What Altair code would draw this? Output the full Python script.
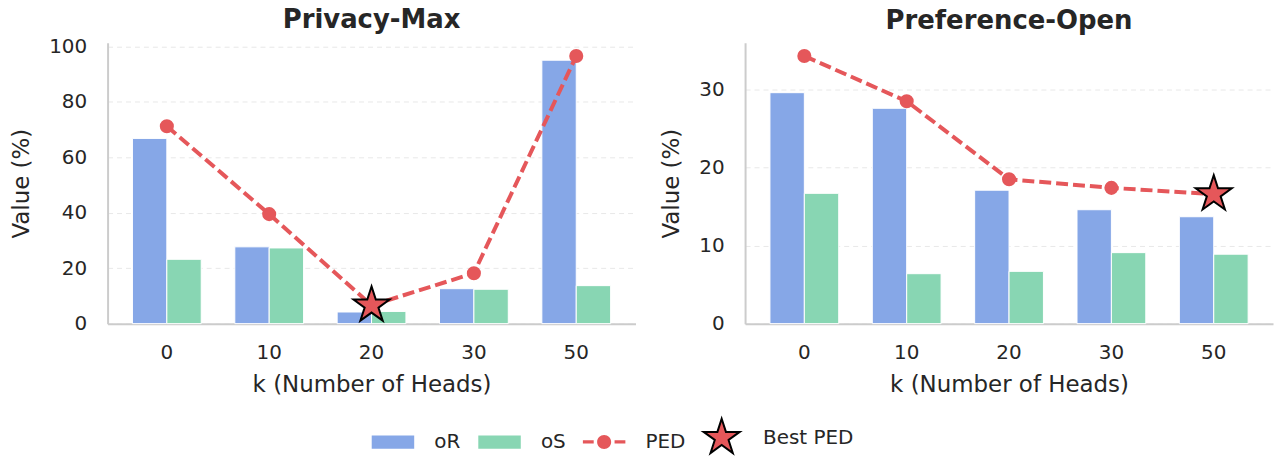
import math

import altair as alt
import pandas as pd

# k values (number of heads) shown on the x axis
K = ["0", "10", "20", "30", "50"]
SERIES = ["oR", "oS", "PED", "Best PED"]

# Privacy-Max
PM_OR = [66.8, 27.7, 4.2, 12.6, 95.0]
PM_OS = [23.2, 27.3, 4.4, 12.4, 13.7]
PM_PED = [71.2, 39.5, 6.6, 18.2, 96.5]

# Preference-Open
PO_OR = [29.6, 27.6, 17.1, 14.6, 13.7]
PO_OS = [16.7, 6.4, 6.7, 9.1, 8.9]
PO_PED = [34.3, 28.5, 18.5, 17.4, 16.6]

BLUE = "#86a7e7"
GREEN = "#88d6b3"
RED = "#e5575a"
TEXT = "#262626"
FONT = "DejaVu Sans"


def star_path(r_out=1.0, r_in=0.382):
    pts = []
    for i in range(10):
        r = r_out if i % 2 == 0 else r_in
        a = math.radians(-90 + 36 * i)
        pts.append(f"{r * math.cos(a):.4f},{r * math.sin(a):.4f}")
    return "M" + "L".join(pts) + "Z"


# legend glyphs (unit coordinates, scaled by the symbol size)
RECT = "M-1.12,-0.35L1.12,-0.35L1.12,0.35L-1.12,0.35Z"
LINE_DOT = (
    "M-1.12,-0.09L-0.55,-0.09L-0.55,0.09L-1.12,0.09Z"
    "M0.55,-0.09L1.12,-0.09L1.12,0.09L0.55,0.09Z"
    "M0.37,0A0.37,0.37 0 1,1 -0.37,0A0.37,0.37 0 1,1 0.37,0Z"
)
STAR = star_path()

STAR_SIZE = 1450

# non-breaking spaces after "PED" widen that entry before the star entry
PED_GAP = "\u00a0" * 7

LEGEND = alt.Legend(
    title=None,
    orient="none",
    legendX=266,
    legendY=376,
    direction="horizontal",
    labelFont=FONT,
    labelFontSize=20,
    labelColor=TEXT,
    labelOffset=21,
    columnPadding=13,
    symbolSize=STAR_SIZE,
    symbolStrokeWidth=2,
    labelExpr=f"datum.label === 'PED' ? 'PED{PED_GAP}' : datum.label",
)

FILL_SCALE = alt.Scale(domain=SERIES, range=[BLUE, GREEN, RED, RED])
SHAPE_SCALE = alt.Scale(domain=SERIES, range=[RECT, RECT, LINE_DOT, STAR])
STROKE_SCALE = alt.Scale(
    domain=SERIES, range=["transparent", "transparent", "transparent", "black"]
)


def panel(title, title_offset, r_vals, s_vals, ped_vals, ymax, ticks):
    bars = pd.DataFrame(
        {
            "k": K * 2,
            "series": ["oR"] * len(K) + ["oS"] * len(K),
            "value": r_vals + s_vals,
        }
    )
    best = min(range(len(K)), key=lambda i: ped_vals[i])
    ped = pd.DataFrame(
        {
            "k": K,
            "value": ped_vals,
            "series": ["Best PED" if i == best else "PED" for i in range(len(K))],
        }
    )

    x = alt.X(
        "k:N",
        sort=K,
        title="k (Number of Heads)",
        scale=alt.Scale(paddingInner=0.328, paddingOuter=0.243),
        axis=alt.Axis(labelAngle=0, grid=False),
    )
    y = alt.Y(
        "value:Q",
        title="Value (%)",
        scale=alt.Scale(domain=[0, ymax], nice=False, zero=True),
        axis=alt.Axis(values=ticks),
    )

    bar = (
        alt.Chart(bars)
        .mark_bar(stroke="white", strokeWidth=1)
        .encode(
            x=x,
            xOffset=alt.XOffset("series:N", sort=["oR", "oS"]),
            y=y,
            fill=alt.Fill("series:N", scale=FILL_SCALE, legend=LEGEND),
        )
    )

    line = (
        alt.Chart(ped)
        .mark_line(color=RED, strokeWidth=4, strokeDash=[12, 5])
        .encode(x=x, y=alt.Y("value:Q"))
    )

    dots = (
        alt.Chart(ped)
        .transform_filter("datum.series == 'PED'")
        .mark_circle(size=200, opacity=1, color=RED)
        .encode(x=x, y=alt.Y("value:Q"))
    )

    star = (
        alt.Chart(ped)
        .transform_filter("datum.series == 'Best PED'")
        .mark_point(filled=True, size=STAR_SIZE, strokeWidth=2, opacity=1)
        .encode(
            x=x,
            y=alt.Y("value:Q"),
            fill=alt.Fill("series:N", scale=FILL_SCALE, legend=LEGEND),
            shape=alt.Shape("series:N", scale=SHAPE_SCALE, legend=LEGEND),
            stroke=alt.Stroke("series:N", scale=STROKE_SCALE, legend=LEGEND),
        )
    )

    return alt.layer(bar, line, dots, star).properties(
        width=530,
        height=282,
        title=alt.Title(title, offset=title_offset),
    )


left = panel("Privacy-Max", 3.7, PM_OR, PM_OS, PM_PED, 101.3, [0, 20, 40, 60, 80, 100])
right = panel("Preference-Open", 8.7, PO_OR, PO_OS, PO_PED, 36.0, [0, 10, 20, 30])

chart = (
    alt.hconcat(left, right, spacing=25)
    .resolve_scale(fill="shared", shape="shared", stroke="shared")
    .resolve_legend(fill="shared", shape="shared", stroke="shared")
    .properties(padding={"left": 10, "top": 5, "right": 2, "bottom": 5})
    .configure_view(stroke=None)
    .configure_axis(
        domainColor="#cccccc",
        domainWidth=2,
        ticks=False,
        labelFont=FONT,
        labelFontSize=20,
        labelColor=TEXT,
        titleFont=FONT,
        titleFontSize=23,
        titleFontWeight="normal",
        titleColor=TEXT,
        gridColor="#e8e8e8",
        gridDash=[5, 4],
        gridWidth=1,
    )
    .configure_axisX(labelPadding=19, titlePadding=11)
    .configure_axisY(labelPadding=21, titlePadding=15)
    .configure_title(font=FONT, fontSize=26, fontWeight="bold", color=TEXT)
)

chart.save("out.html", embed_options={"renderer": "svg", "actions": False})
